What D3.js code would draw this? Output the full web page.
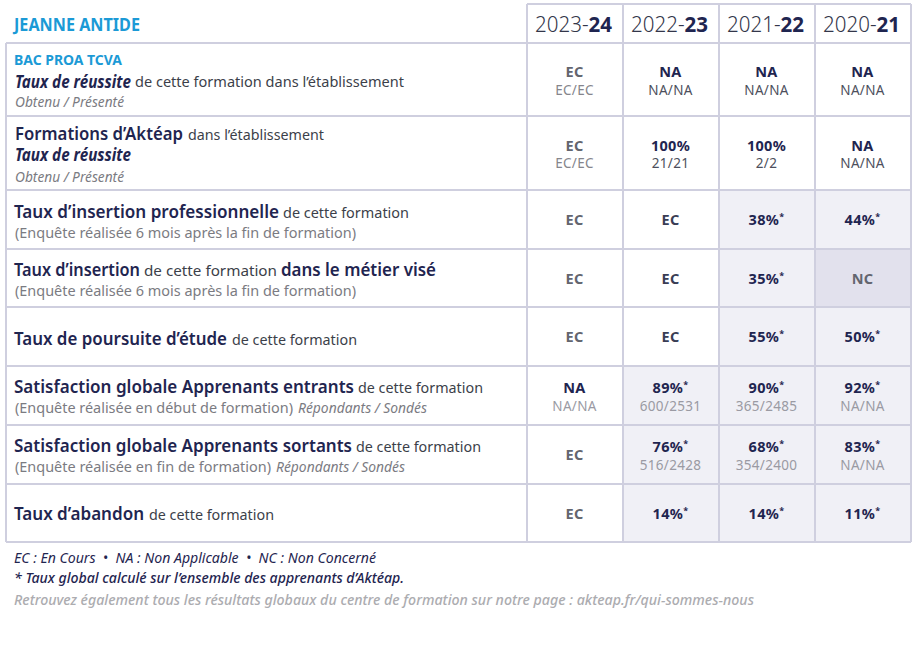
<!DOCTYPE html>
<html><head><meta charset="utf-8">
<script src="https://cdnjs.cloudflare.com/ajax/libs/d3/7.8.5/d3.min.js"></script>
<style>html,body{margin:0;background:#fff}svg{display:block}text{font-family:"Noto Sans",sans-serif;white-space:pre}</style>
</head><body><svg id="c" width="917" height="667"></svg>
<script>
const years = ["2023-24","2022-23","2021-22","2020-21"];
const school = "JEANNE ANTIDE";
const main2324 = ["EC","EC","EC","EC","EC","NA","EC","EC"];
const main2223 = ["NA","100%","EC","EC","EC","89%*","76%*","14%*"];
const main2122 = ["NA","100%","38%*","35%*","55%*","90%*","68%*","14%*"];
const main2021 = ["NA","NA","44%*","NC","50%*","92%*","83%*","11%*"];
const sub2324 = ["EC/EC","EC/EC","","","","NA/NA","",""];
const sub2223 = ["NA/NA","21/21","","","","600/2531","516/2428",""];
const sub2122 = ["NA/NA","2/2","","","","365/2485","354/2400",""];
const sub2021 = ["NA/NA","NA/NA","","","","NA/NA","NA/NA",""];
const mains = [main2324,main2223,main2122,main2021];
const subs = [sub2324,sub2223,sub2122,sub2021];
const footer = ["EC : En Cours  •  NA : Non Applicable  •  NC : Non Concerné",
  "* Taux global calculé sur l’ensemble des apprenants d’Aktéap.",
  "Retrouvez également tous les résultats globaux du centre de formation sur notre page : akteap.fr/qui-sommes-nous"];

// layout
const colEdges = [527,623,719,815,911];
const rowEdges = [43,116,190,249,307,366,425,484,542];
const x = d3.scaleBand().domain(years).range([527,911]);
const ink="#1f2550", blue="#1b9ad6", text2="#3c3f4a", grey="#7b7b82";
const st = {
  b:{s:17,w:600,f:ink}, bi:{s:17,w:700,i:1,f:ink}, r:{s:14.5,w:400,f:text2},
  g:{s:14,w:400,f:grey}, gi:{s:13.5,w:400,i:1,f:grey}, t:{s:14,w:700,f:blue}
};
// [text, style, x0, x1, baseline]
const runs = [
 ["BAC PROA TCVA","t",14,122,65],
 ["Taux de réussite","bi",15,131,88],
 ["de cette formation dans l’établissement","r",135,404,87],
 ["Obtenu / Présenté","gi",15,124,107],
 ["Formations d’Aktéap","b",15,183,140],
 ["dans l’établissement","r",188,324,140],
 ["Taux de réussite","bi",15,131,161],
 ["Obtenu / Présenté","gi",15,124,182],
 ["Taux d’insertion professionnelle","b",14,279,218],
 ["de cette formation","r",283,409,218],
 ["(Enquête réalisée 6 mois après la fin de formation)","g",15,356,238],
 ["Taux d’insertion","b",14,140,276],
 ["de cette formation","r",144,277,276],
 ["dans le métier visé","b",281,436,276],
 ["(Enquête réalisée 6 mois après la fin de formation)","g",15,356,296],
 ["Taux de poursuite d’étude","b",14,227,345],
 ["de cette formation","r",232,357,345],
 ["Satisfaction globale Apprenants entrants","b",14,354,393],
 ["de cette formation","r",358,483,393],
 ["(Enquête réalisée en début de formation)","g",15,293,413],
 ["Répondants / Sondés","gi",298,427,413],
 ["Satisfaction globale Apprenants sortants","b",14,352,452],
 ["de cette formation","r",356,481,452],
 ["(Enquête réalisée en fin de formation)","g",15,271,472],
 ["Répondants / Sondés","gi",276,405,472],
 ["Taux d’abandon","b",14,144,520],
 ["de cette formation","r",149,274,520]
];
const svg = d3.select("#c");
const stroke="#cfcfdf";

// shaded cells
const isShaded = (c,r)=> r>=2 && /%/.test(mains[c][r]) || mains[c][r]==="NC";
const rowIdx = d3.range(8);
const cells = years.flatMap((yr,c)=>rowIdx.map(r=>({yr,c,r})));
svg.append("g").selectAll("rect").data(cells.filter(d=>isShaded(d.c,d.r))).join("rect")
  .attr("x",d=>x(d.yr)).attr("width",x.bandwidth())
  .attr("y",d=>rowEdges[d.r]).attr("height",d=>rowEdges[d.r+1]-rowEdges[d.r])
  .attr("fill",d=>mains[d.c][d.r]==="NC"?"#e2e1ed":"#f0f0f6");

// grid
const g = svg.append("g").attr("stroke",stroke).attr("stroke-width",2).attr("fill","none");
g.selectAll(".h").data(rowEdges).join("line").attr("x1",6).attr("x2",911).attr("y1",d=>d).attr("y2",d=>d);
g.selectAll(".v").data(colEdges).join("line").attr("x1",d=>d).attr("x2",d=>d).attr("y1",4).attr("y2",542);
g.append("line").attr("x1",6).attr("x2",6).attr("y1",43).attr("y2",542);
g.append("line").attr("x1",527).attr("x2",911).attr("y1",4).attr("y2",4);

// title
svg.append("text").text(school).attr("x",14).attr("y",31).attr("font-size",17).attr("font-weight",700).attr("fill",blue)
  .attr("textLength",126).attr("lengthAdjust","spacingAndGlyphs");

// headers
const hdr = svg.append("g").selectAll("text").data(years).join("text")
  .attr("x",d=>x(d)+x.bandwidth()/2-1.5).attr("y",32).attr("text-anchor","middle").attr("font-size",21).attr("fill",ink)
  .attr("textLength",77).attr("lengthAdjust","spacingAndGlyphs");
hdr.append("tspan").text(d=>d.split("-")[0]+"-").attr("font-weight",300).attr("fill","#33364a");
hdr.append("tspan").text(d=>d.split("-")[1]).attr("font-weight",700);

// left labels
svg.append("g").selectAll("text").data(runs).join("text")
  .text(d=>d[0]).attr("x",d=>d[2]).attr("y",d=>d[4])
  .attr("font-size",d=>st[d[1]].s).attr("font-weight",d=>st[d[1]].w)
  .attr("font-style",d=>st[d[1]].i?"italic":"normal").attr("fill",d=>st[d[1]].f)
  .attr("textLength",d=>d[3]-d[2]).attr("lengthAdjust","spacingAndGlyphs");

// cell values
const mid = r=>(rowEdges[r]+rowEdges[r+1])/2;
const cg = svg.append("g").selectAll("g").data(cells).join("g");
const mainColor = d=>{const v=mains[d.c][d.r]; return (v==="EC"&&d.c===0)||v==="NC"?"#63656f":(v==="EC"?"#3a3d55":ink);};
const mt = cg.append("text").attr("text-anchor","middle")
  .attr("x",d=>x(d.yr)+x.bandwidth()/2-0.5)
  .attr("y",d=>subs[d.c][d.r]? mid(d.r)-(d.r>=5?3:(d.r===1?2:3)) : mid(d.r)+5.5)
  .attr("font-size",14.5).attr("font-weight",700).attr("letter-spacing",0.3).attr("fill",mainColor);
mt.append("tspan").text(d=>mains[d.c][d.r].replace("*",""));
mt.filter(d=>mains[d.c][d.r].includes("*")).append("tspan").text("*")
  .attr("font-size",9).attr("dy",-5);
cg.append("text").attr("text-anchor","middle")
  .attr("x",d=>x(d.yr)+x.bandwidth()/2-0.5)
  .attr("y",d=>mid(d.r)+(d.r>=5?15:15))
  .attr("font-size",13.5).attr("letter-spacing",0.3).attr("fill",d=>{const s=subs[d.c][d.r]; return d.r>=5?"#9a9aa3":(s==="EC/EC"?"#85858c":"#4d4f5c");})
  .text(d=>subs[d.c][d.r]);

// footer
const fx=[[14,376,563,ink,400,"italic"],[14,404,583,ink,500,"italic"],[14,754,605,"#acacb0",500,"italic"]];
svg.append("g").selectAll("text").data(footer).join("text").text(d=>d)
  .attr("x",(d,i)=>fx[i][0]).attr("y",(d,i)=>fx[i][2]).attr("font-size",14.5)
  .attr("fill",(d,i)=>fx[i][3]).attr("font-weight",(d,i)=>fx[i][4]).attr("font-style",(d,i)=>fx[i][5])
  .attr("textLength",(d,i)=>fx[i][1]-fx[i][0]).attr("lengthAdjust","spacingAndGlyphs");
</script></body></html>
